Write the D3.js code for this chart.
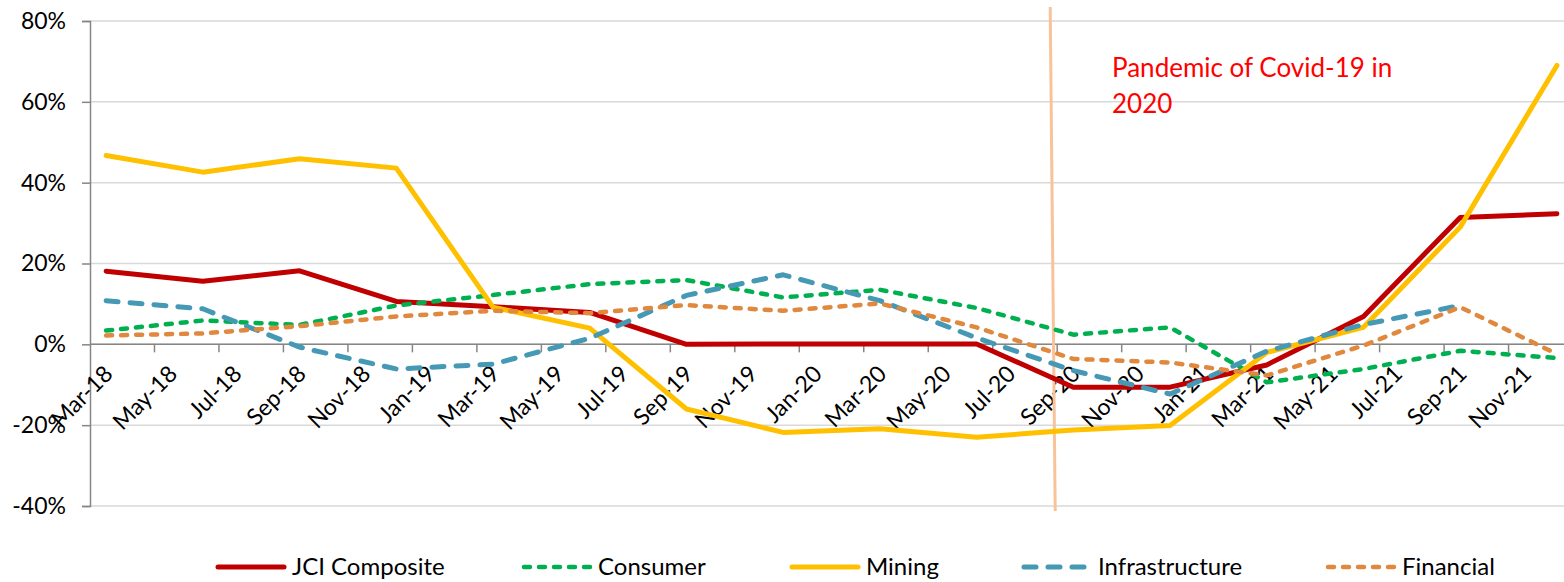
<!DOCTYPE html>
<html>
<head>
<meta charset="utf-8">
<script src="https://cdn.jsdelivr.net/npm/d3@7"></script>
<style>
  body { margin: 0; background: #fff; }
  svg { display: block; font-family: Lato, "Open Sans", sans-serif; }
</style>
</head>
<body>
<svg></svg>
<script>
// Month categories of the axis (monthly, labels every second month)
const months = ["Mar-18","Apr-18","May-18","Jun-18","Jul-18","Aug-18","Sep-18","Oct-18","Nov-18","Dec-18",
  "Jan-19","Feb-19","Mar-19","Apr-19","May-19","Jun-19","Jul-19","Aug-19","Sep-19","Oct-19","Nov-19","Dec-19",
  "Jan-20","Feb-20","Mar-20","Apr-20","May-20","Jun-20","Jul-20","Aug-20","Sep-20","Oct-20","Nov-20","Dec-20",
  "Jan-21","Feb-21","Mar-21","Apr-21","May-21","Jun-21","Jul-21","Aug-21","Sep-21","Oct-21","Nov-21","Dec-21"];

// Quarterly observations
const quarters = ["Mar-18","Jun-18","Sep-18","Dec-18","Mar-19","Jun-19","Sep-19","Dec-19",
  "Mar-20","Jun-20","Sep-20","Dec-20","Mar-21","Jun-21","Sep-21","Dec-21"];

const jci       = [18.1, 15.6, 18.2, 10.6, 9.3, 7.9, 0.0, 0.1, 0.1, 0.1, -10.6, -10.6, -5.1, 6.9, 31.4, 32.3];
const consumer  = [3.4, 5.9, 4.8, 9.6, 12.2, 14.9, 15.9, 11.6, 13.5, 9.0, 2.4, 4.2, -9.4, -6.1, -1.6, -3.4];
const mining    = [46.7, 42.6, 45.9, 43.6, 9.2, 4.0, -16.0, -21.8, -20.9, -23.0, -21.2, -20.1, -2.0, 4.2, 29.0, 69.0];
const infra     = [10.8, 8.8, -0.7, -6.1, -4.9, 1.5, 12.1, 17.2, 10.8, 1.6, -6.5, -12.3, -1.7, 4.9, 9.6, null];
const financial = [2.2, 2.7, 4.5, 6.9, 8.3, 7.7, 9.7, 8.3, 10.1, 4.2, -3.6, -4.5, -7.7, -0.3, 9.2, -2.4];

const yTicks = [-40, -20, 0, 20, 40, 60, 80];
const annotationLines = ["Pandemic of Covid-19 in", "2020"];

const series = [
  { name: "JCI Composite", values: jci, color: "#C00000", width: 5, dash: null },
  { name: "Consumer", values: consumer, color: "#00B050", width: 4.5, dash: "6,9" },
  { name: "Mining", values: mining, color: "#FFC000", width: 5, dash: null },
  { name: "Infrastructure", values: infra, color: "#4599B5", width: 5, dash: "12,12" },
  { name: "Financial", values: financial, color: "#E0883E", width: 4.5, dash: "6,9" }
];

const width = 1564, height = 582;
const plot = { left: 90, top: 21, bottom: 506 };

const svg = d3.select("svg").attr("width", width).attr("height", height);

// Scales
const x = d3.scaleBand().domain(months).range([plot.left, plot.left + months.length * 32.24]).padding(0);
const xc = m => x(m) + x.bandwidth() / 2;
const y = d3.scaleLinear().domain([-40, 80]).range([plot.bottom, plot.top]);

// Gridlines
svg.append("g").selectAll("line").data(yTicks).join("line")
  .attr("x1", plot.left).attr("x2", width)
  .attr("y1", d => y(d)).attr("y2", d => y(d))
  .attr("stroke", "#D9D9D9").attr("stroke-width", 1.5);

// Y axis
const yAxis = svg.append("g").attr("transform", `translate(${plot.left},0)`)
  .call(d3.axisLeft(y).tickValues(yTicks).tickSize(8).tickPadding(16).tickFormat(d => d + "%"));
yAxis.select(".domain").attr("stroke", "#868686").attr("stroke-width", 1.5);
yAxis.selectAll(".tick line").attr("stroke", "#868686").attr("stroke-width", 1.5);
yAxis.selectAll(".tick text").attr("font-size", 23).attr("fill", "#000")
  .attr("font-family", "Lato, sans-serif");

// X axis at 0%
const xAxis = svg.append("g");
xAxis.append("line")
  .attr("x1", plot.left).attr("x2", width)
  .attr("y1", y(0)).attr("y2", y(0))
  .attr("stroke", "#868686").attr("stroke-width", 1.5);
const tickMonths = months.filter((m, i) => i > 0 && i % 2 === 0);
xAxis.selectAll(".xtick").data(tickMonths).join("line")
  .attr("class", "xtick")
  .attr("x1", d => x(d)).attr("x2", d => x(d))
  .attr("y1", y(0)).attr("y2", y(0) + 8)
  .attr("stroke", "#868686").attr("stroke-width", 1.5);
const labelMonths = months.filter((m, i) => i % 2 === 0);
xAxis.selectAll(".xlabel").data(labelMonths).join("text")
  .attr("class", "xlabel")
  .attr("transform", d => `translate(${xc(d) + 8},${y(0) + 31}) rotate(-45)`)
  .attr("text-anchor", "end")
  .attr("font-size", 23)
  .attr("fill", "#000")
  .text(d => d);

// Pandemic marker line
const markX = x("Sep-20");
svg.append("line")
  .attr("x1", markX - 7).attr("y1", 7)
  .attr("x2", markX - 2).attr("y2", 511)
  .attr("stroke", "#F9C39A").attr("stroke-width", 3);

const note = svg.append("text")
  .attr("x", 1112).attr("y", 77)
  .attr("font-size", 26).attr("fill", "#FF0000");
note.selectAll("tspan").data(annotationLines).join("tspan")
  .attr("x", 1112).attr("dy", (d, i) => i === 0 ? 0 : 36)
  .text(d => d);

// Series lines
const line = d3.line()
  .defined(d => d.v !== null)
  .x(d => xc(d.m))
  .y(d => y(d.v));

series.forEach(s => {
  const pts = quarters.map((m, i) => ({ m: m, v: s.values[i] }));
  svg.append("path")
    .datum(pts)
    .attr("d", line)
    .attr("fill", "none")
    .attr("stroke", s.color)
    .attr("stroke-width", s.width)
    .attr("stroke-linecap", "round")
    .attr("stroke-linejoin", "round")
    .attr("stroke-dasharray", s.dash);
});

// Legend
const legendX = [216, 522, 790, 1022, 1326];
const legend = svg.append("g");
series.forEach((s, i) => {
  const g = legend.append("g").attr("transform", `translate(${legendX[i]},567)`);
  g.append("line")
    .attr("x1", 2).attr("x2", 68)
    .attr("stroke", s.color)
    .attr("stroke-width", s.width)
    .attr("stroke-linecap", "round")
    .attr("stroke-dasharray", s.dash);
  g.append("text")
    .attr("x", 76).attr("y", 8)
    .attr("font-size", 24).attr("fill", "#000")
    .text(s.name);
});
</script>
</body>
</html>
